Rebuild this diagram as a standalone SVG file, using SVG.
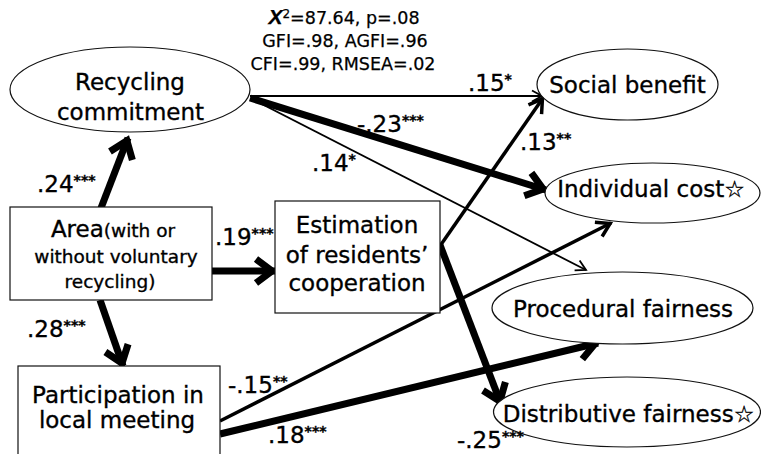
<svg xmlns="http://www.w3.org/2000/svg" width="761" height="454" viewBox="0 0 761 454">
<style>
  .node { fill: #ffffff; stroke: #111111; stroke-width: 1.2; }
  .t { font-family: "DejaVu Sans", "Liberation Sans", sans-serif; font-size: 23px; fill: #000000; stroke: #000000; stroke-width: 0.35; text-anchor: middle; }
  .ts { font-size: 18.5px; }
  .stat { font-family: "DejaVu Sans", "Liberation Sans", sans-serif; font-size: 17.5px; fill: #000000; stroke: #000000; stroke-width: 0.25; text-anchor: middle; }
  .lbl { font-family: "DejaVu Sans", "Liberation Sans", sans-serif; font-size: 23px; fill: #000000; stroke: #000000; stroke-width: 0.35; }
  .ast { font-size: 14px; font-weight: bold; }
  .e { fill: none; stroke: #000000; stroke-linecap: butt; }
  .w1 { stroke-width: 1.8; }
  .w2 { stroke-width: 3.5; }
  .w3 { stroke-width: 7; }
  .head { fill: none; stroke: #000000; stroke-linejoin: miter; stroke-miterlimit: 10; }
</style>
<defs>
  <marker id="a1" markerUnits="userSpaceOnUse" markerWidth="30" markerHeight="30" refX="0" refY="0" viewBox="-15 -15 30 30" orient="auto" overflow="visible">
    <path class="head" d="M-10,-5.5 L0,0 L-10,5.5" stroke-width="1.8"/>
  </marker>
  <marker id="a2" markerUnits="userSpaceOnUse" markerWidth="40" markerHeight="40" refX="0" refY="0" viewBox="-20 -20 40 40" orient="auto" overflow="visible">
    <path class="head" d="M-14,-8 L-1,0 L-14,8" stroke-width="3.5"/>
  </marker>
  <marker id="a3" markerUnits="userSpaceOnUse" markerWidth="60" markerHeight="60" refX="0" refY="0" viewBox="-30 -30 60 60" orient="auto" overflow="visible">
    <path class="head" d="M-19,-12 L-3,0 L-19,12" stroke-width="7"/>
  </marker>
</defs>

<g id="connectors">
  <line class="e w1" x1="250" y1="96" x2="542" y2="96" marker-end="url(#a1)"/>
  <line class="e w1" x1="252" y1="99" x2="586" y2="270" marker-end="url(#a1)"/>
  <line class="e w3" x1="250" y1="98" x2="546" y2="190" marker-end="url(#a3)"/>
  <line class="e w3" x1="101" y1="208" x2="128" y2="138" marker-end="url(#a3)"/>
  <line class="e w3" x1="212" y1="271" x2="275" y2="271" marker-end="url(#a3)"/>
  <line class="e w3" x1="100" y1="300" x2="123" y2="366" marker-end="url(#a3)"/>
  <line class="e w2" x1="440" y1="246" x2="543" y2="98" marker-end="url(#a2)"/>
  <line class="e w3" x1="440" y1="245" x2="501" y2="404" marker-end="url(#a3)"/>
  <line class="e w2" x1="220" y1="421" x2="611" y2="223" marker-end="url(#a2)"/>
  <line class="e w3" x1="220" y1="434" x2="598" y2="343" marker-end="url(#a3)"/>
</g>

<g id="fit">
  <text class="stat" x="344" y="24"><tspan font-family="Liberation Sans, sans-serif" font-weight="bold" font-style="italic" font-size="21">X</tspan><tspan font-size="12" dy="-6">2</tspan><tspan dy="6">=87.64, p=.08</tspan></text>
  <text class="stat" x="345" y="47">GFI=.98, AGFI=.96</text>
  <text class="stat" x="343" y="70">CFI=.99, RMSEA=.02</text>
</g>

<g id="recycling-commitment">
  <ellipse class="node" cx="130" cy="89.5" rx="120" ry="42.5"/>
  <text class="t" x="130" y="90">Recycling</text>
  <text class="t" x="130.5" y="120">commitment</text>
</g>

<g id="social-benefit">
  <ellipse class="node" cx="627.5" cy="84.5" rx="90.5" ry="35.5"/>
  <text class="t" x="627.5" y="93">Social benefit</text>
</g>

<g id="individual-cost">
  <ellipse class="node" cx="652.5" cy="193" rx="107.5" ry="30"/>
  <text class="t" x="651" y="197">Individual cost☆</text>
</g>

<g id="procedural-fairness">
  <ellipse class="node" cx="622.5" cy="308" rx="130.5" ry="36"/>
  <text class="t" x="623" y="317">Procedural fairness</text>
</g>

<g id="distributive-fairness">
  <ellipse class="node" cx="627" cy="412" rx="133.5" ry="35"/>
  <text class="t" x="628.5" y="422">Distributive fairness☆</text>
</g>

<g id="area">
  <rect class="node" x="10" y="207" width="202" height="93"/>
  <text class="t" x="113" y="237">Area<tspan class="ts">(with or</tspan></text>
  <text class="t ts" x="116" y="263">without voluntary</text>
  <text class="t ts" x="110" y="288">recycling)</text>
</g>

<g id="estimation">
  <rect class="node" x="275" y="201" width="165" height="112"/>
  <text class="t" x="357" y="233">Estimation</text>
  <text class="t" x="357" y="263">of residents’</text>
  <text class="t" x="357" y="291">cooperation</text>
</g>

<g id="participation">
  <rect class="node" x="18" y="366" width="202" height="100"/>
  <text class="t" x="118" y="403">Participation in</text>
  <text class="t" x="117" y="428">local meeting</text>
</g>

<g id="labels">
  <text class="lbl" x="37" y="192">.24<tspan class="ast" dy="-7">***</tspan></text>
  <text class="lbl" x="215" y="245">.19<tspan class="ast" dy="-7">***</tspan></text>
  <text class="lbl" x="27" y="337">.28<tspan class="ast" dy="-7">***</tspan></text>
  <text class="lbl" x="468" y="91">.15<tspan class="ast" dy="-7">*</tspan></text>
  <text class="lbl" x="357" y="132">-.23<tspan class="ast" dy="-7">***</tspan></text>
  <text class="lbl" x="312" y="171">.14<tspan class="ast" dy="-7">*</tspan></text>
  <text class="lbl" x="520" y="150">.13<tspan class="ast" dy="-7">**</tspan></text>
  <text class="lbl" x="228" y="393">-.15<tspan class="ast" dy="-7">**</tspan></text>
  <text class="lbl" x="268" y="443">.18<tspan class="ast" dy="-7">***</tspan></text>
  <text class="lbl" x="457" y="448">-.25<tspan class="ast" dy="-7">***</tspan></text>
</g>
</svg>
